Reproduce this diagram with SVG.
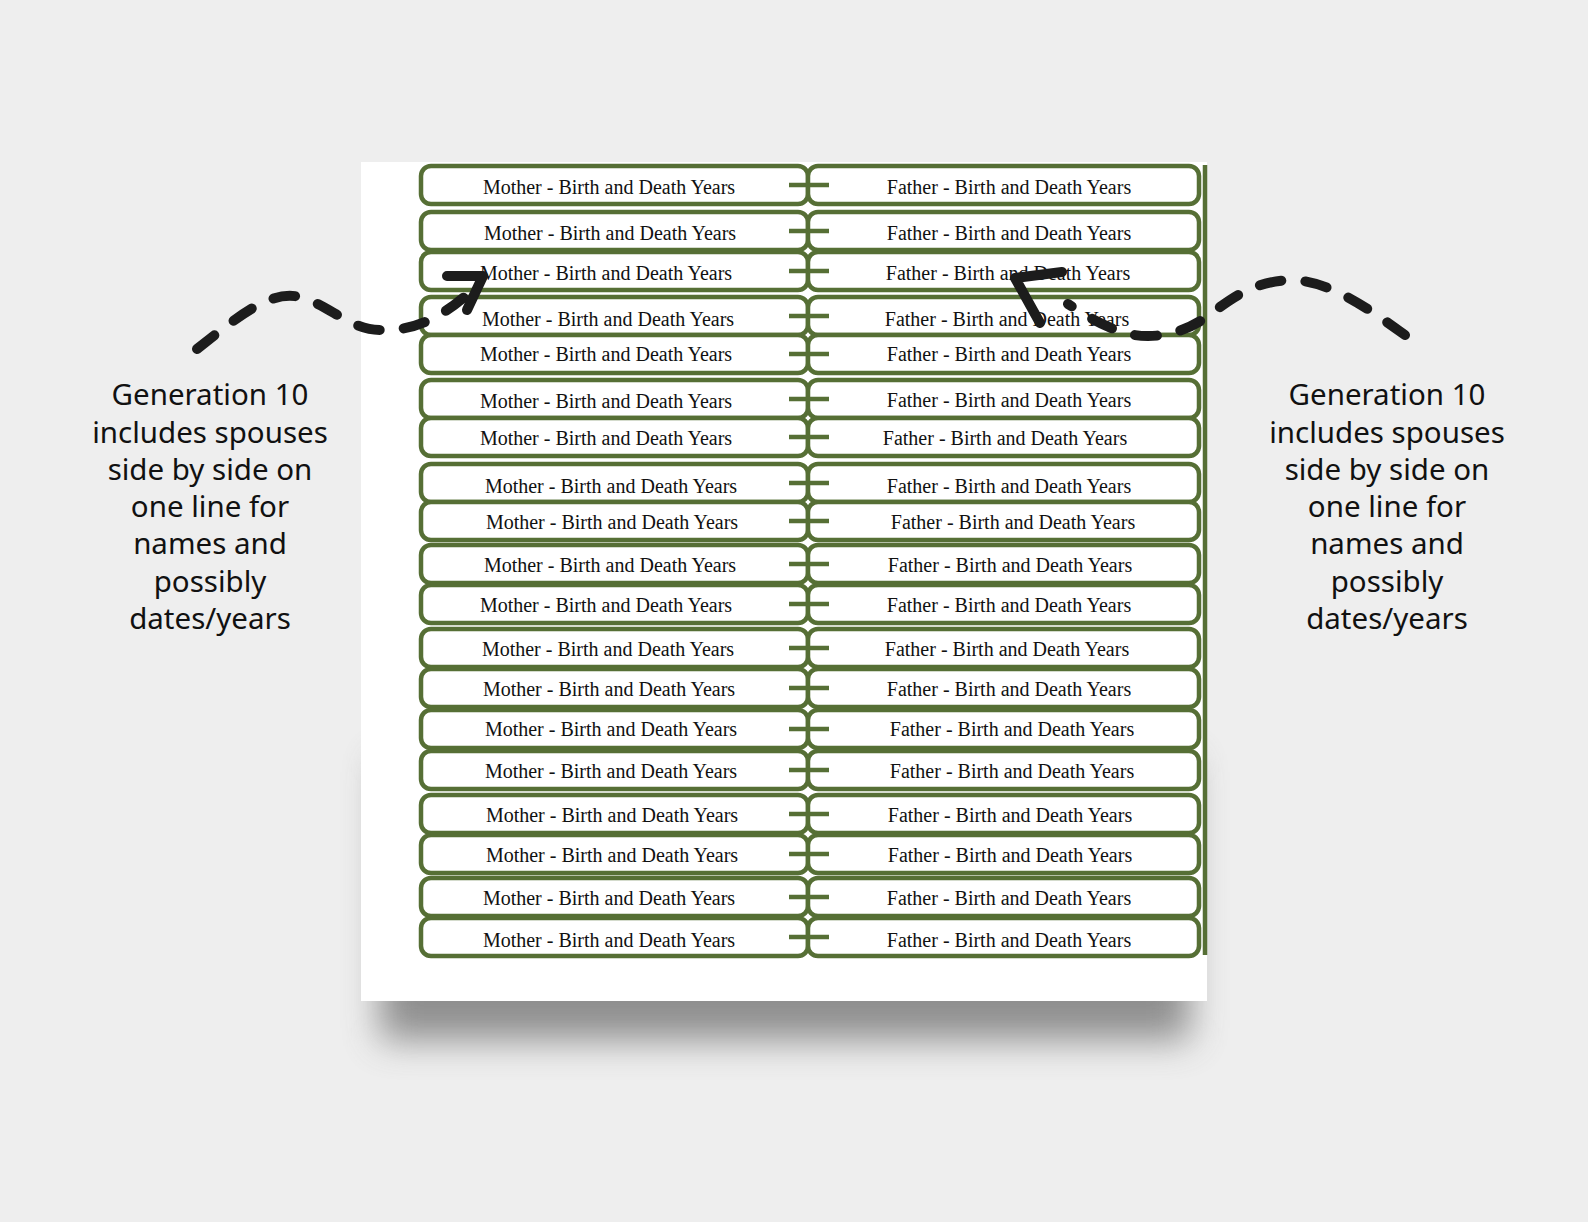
<svg xmlns="http://www.w3.org/2000/svg" width="1588" height="1222" viewBox="0 0 1588 1222">
<defs>
<filter id="sh" x="-20%" y="-20%" width="140%" height="140%"><feGaussianBlur stdDeviation="18"/></filter>
<style>
.b{fill:#fff;stroke:#566f35;stroke-width:4.5}
.c{stroke:#566f35;stroke-width:4.5}
.t{font-family:"Liberation Serif",serif;font-size:20px;fill:#111;text-anchor:middle}
.g{font-family:"Noto Sans",sans-serif;font-size:29.5px;fill:#111;text-anchor:middle}
.d{fill:none;stroke:#1c1c1c;stroke-width:10;stroke-linecap:round;stroke-dasharray:22 24}
.a{fill:none;stroke:#1c1c1c;stroke-width:10;stroke-linecap:round;stroke-linejoin:round}
</style>
</defs>
<rect width="1588" height="1222" fill="#eeeeee"/>
<rect x="380" y="760" width="810" height="280" fill="#777" filter="url(#sh)" opacity="0.8"/>
<rect x="361" y="162" width="846" height="839" fill="#fff"/>
<g id="boxes">
<g id="r1"><rect class="b" x="421" y="166" width="387" height="38" rx="10"/><rect class="b" x="808" y="166" width="391" height="38" rx="10"/><text class="t" x="609" y="194">Mother - Birth and Death Years</text><text class="t" x="1009" y="194">Father - Birth and Death Years</text></g>
<g id="r2"><rect class="b" x="421" y="212" width="387" height="38" rx="10"/><rect class="b" x="808" y="212" width="391" height="38" rx="10"/><text class="t" x="610" y="240">Mother - Birth and Death Years</text><text class="t" x="1009" y="240">Father - Birth and Death Years</text></g>
<g id="r3"><rect class="b" x="421" y="252" width="387" height="38" rx="10"/><rect class="b" x="808" y="252" width="391" height="38" rx="10"/><text class="t" x="606" y="280">Mother - Birth and Death Years</text><text class="t" x="1008" y="280">Father - Birth and Death Years</text></g>
<g id="r4"><rect class="b" x="421" y="297" width="387" height="38" rx="10"/><rect class="b" x="808" y="297" width="391" height="38" rx="10"/><text class="t" x="608" y="326">Mother - Birth and Death Years</text><text class="t" x="1007" y="326">Father - Birth and Death Years</text></g>
<g id="r5"><rect class="b" x="421" y="335" width="387" height="38" rx="10"/><rect class="b" x="808" y="335" width="391" height="38" rx="10"/><text class="t" x="606" y="361">Mother - Birth and Death Years</text><text class="t" x="1009" y="361">Father - Birth and Death Years</text></g>
<g id="r6"><rect class="b" x="421" y="380" width="387" height="38" rx="10"/><rect class="b" x="808" y="380" width="391" height="38" rx="10"/><text class="t" x="606" y="408">Mother - Birth and Death Years</text><text class="t" x="1009" y="407">Father - Birth and Death Years</text></g>
<g id="r7"><rect class="b" x="421" y="418" width="387" height="38" rx="10"/><rect class="b" x="808" y="418" width="391" height="38" rx="10"/><text class="t" x="606" y="445">Mother - Birth and Death Years</text><text class="t" x="1005" y="445">Father - Birth and Death Years</text></g>
<g id="r8"><rect class="b" x="421" y="464" width="387" height="38" rx="10"/><rect class="b" x="808" y="464" width="391" height="38" rx="10"/><text class="t" x="611" y="493">Mother - Birth and Death Years</text><text class="t" x="1009" y="493">Father - Birth and Death Years</text></g>
<g id="r9"><rect class="b" x="421" y="502" width="387" height="38" rx="10"/><rect class="b" x="808" y="502" width="391" height="38" rx="10"/><text class="t" x="612" y="529">Mother - Birth and Death Years</text><text class="t" x="1013" y="529">Father - Birth and Death Years</text></g>
<g id="r10"><rect class="b" x="421" y="545" width="387" height="38" rx="10"/><rect class="b" x="808" y="545" width="391" height="38" rx="10"/><text class="t" x="610" y="572">Mother - Birth and Death Years</text><text class="t" x="1010" y="572">Father - Birth and Death Years</text></g>
<g id="r11"><rect class="b" x="421" y="585" width="387" height="38" rx="10"/><rect class="b" x="808" y="585" width="391" height="38" rx="10"/><text class="t" x="606" y="612">Mother - Birth and Death Years</text><text class="t" x="1009" y="612">Father - Birth and Death Years</text></g>
<g id="r12"><rect class="b" x="421" y="629" width="387" height="38" rx="10"/><rect class="b" x="808" y="629" width="391" height="38" rx="10"/><text class="t" x="608" y="656">Mother - Birth and Death Years</text><text class="t" x="1007" y="656">Father - Birth and Death Years</text></g>
<g id="r13"><rect class="b" x="421" y="669" width="387" height="38" rx="10"/><rect class="b" x="808" y="669" width="391" height="38" rx="10"/><text class="t" x="609" y="696">Mother - Birth and Death Years</text><text class="t" x="1009" y="696">Father - Birth and Death Years</text></g>
<g id="r14"><rect class="b" x="421" y="710" width="387" height="38" rx="10"/><rect class="b" x="808" y="710" width="391" height="38" rx="10"/><text class="t" x="611" y="736">Mother - Birth and Death Years</text><text class="t" x="1012" y="736">Father - Birth and Death Years</text></g>
<g id="r15"><rect class="b" x="421" y="751" width="387" height="38" rx="10"/><rect class="b" x="808" y="751" width="391" height="38" rx="10"/><text class="t" x="611" y="778">Mother - Birth and Death Years</text><text class="t" x="1012" y="778">Father - Birth and Death Years</text></g>
<g id="r16"><rect class="b" x="421" y="795" width="387" height="38" rx="10"/><rect class="b" x="808" y="795" width="391" height="38" rx="10"/><text class="t" x="612" y="822">Mother - Birth and Death Years</text><text class="t" x="1010" y="822">Father - Birth and Death Years</text></g>
<g id="r17"><rect class="b" x="421" y="835" width="387" height="38" rx="10"/><rect class="b" x="808" y="835" width="391" height="38" rx="10"/><text class="t" x="612" y="862">Mother - Birth and Death Years</text><text class="t" x="1010" y="862">Father - Birth and Death Years</text></g>
<g id="r18"><rect class="b" x="421" y="878" width="387" height="38" rx="10"/><rect class="b" x="808" y="878" width="391" height="38" rx="10"/><text class="t" x="609" y="905">Mother - Birth and Death Years</text><text class="t" x="1009" y="905">Father - Birth and Death Years</text></g>
<g id="r19"><rect class="b" x="421" y="918" width="387" height="38" rx="10"/><rect class="b" x="808" y="918" width="391" height="38" rx="10"/><text class="t" x="609" y="947">Mother - Birth and Death Years</text><text class="t" x="1009" y="947">Father - Birth and Death Years</text></g>
</g>
<g id="connectors">
<line class="c" x1="1205" y1="165" x2="1205" y2="955"/>
<line class="c" x1="789" y1="185" x2="829" y2="185"/><line class="c" x1="789" y1="231" x2="829" y2="231"/><line class="c" x1="789" y1="271" x2="829" y2="271"/><line class="c" x1="789" y1="316" x2="829" y2="316"/><line class="c" x1="789" y1="354" x2="829" y2="354"/><line class="c" x1="789" y1="399" x2="829" y2="399"/><line class="c" x1="789" y1="437" x2="829" y2="437"/><line class="c" x1="789" y1="483" x2="829" y2="483"/><line class="c" x1="789" y1="521" x2="829" y2="521"/><line class="c" x1="789" y1="564" x2="829" y2="564"/><line class="c" x1="789" y1="604" x2="829" y2="604"/><line class="c" x1="789" y1="648" x2="829" y2="648"/><line class="c" x1="789" y1="688" x2="829" y2="688"/><line class="c" x1="789" y1="729" x2="829" y2="729"/><line class="c" x1="789" y1="770" x2="829" y2="770"/><line class="c" x1="789" y1="814" x2="829" y2="814"/><line class="c" x1="789" y1="854" x2="829" y2="854"/><line class="c" x1="789" y1="897" x2="829" y2="897"/><line class="c" x1="789" y1="937" x2="829" y2="937"/>
</g>
<g id="arrows">
<path class="d" d="M197,349 C240,315 270,290 300,297 C330,305 350,330 380,330 C420,332 450,310 470,292"/>
<path class="a" d="M447,276 L483,276 L467,310"/>
<path class="d" d="M1405,335 C1370,310 1330,280 1290,280 C1250,282 1230,300 1205,318 C1180,335 1150,340 1125,333 C1100,325 1085,315 1068,304"/>
<path class="a" d="M1062,272 L1015,278 L1040,323"/>
</g>
<g id="label-left">
<text class="g" x="210" y="405">Generation 10</text><text class="g" x="210" y="443">includes spouses</text><text class="g" x="210" y="480">side by side on</text><text class="g" x="210" y="517">one line for</text><text class="g" x="210" y="554">names and</text><text class="g" x="210" y="592">possibly</text><text class="g" x="210" y="629">dates/years</text>
</g>
<g id="label-right">
<text class="g" x="1387" y="405">Generation 10</text><text class="g" x="1387" y="443">includes spouses</text><text class="g" x="1387" y="480">side by side on</text><text class="g" x="1387" y="517">one line for</text><text class="g" x="1387" y="554">names and</text><text class="g" x="1387" y="592">possibly</text><text class="g" x="1387" y="629">dates/years</text>
</g>
</svg>
